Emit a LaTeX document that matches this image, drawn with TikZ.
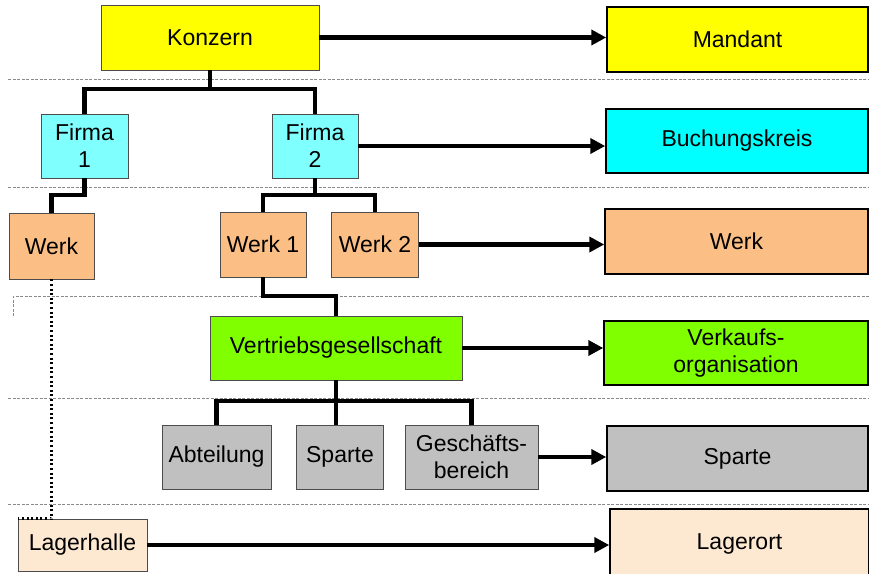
\documentclass[tikz,border=0pt]{standalone}
\usepackage{fontspec}
\setmainfont{Liberation Sans}
\usetikzlibrary{arrows.meta}

\definecolor{konz}{HTML}{FFFF00}
\definecolor{firma}{HTML}{80FFFF}
\definecolor{bukr}{HTML}{00FFFF}
\definecolor{werk}{HTML}{FBBE85}
\definecolor{vert}{HTML}{80FF00}
\definecolor{grau}{HTML}{C0C0C0}
\definecolor{lager}{HTML}{FDE8D2}
\definecolor{rule}{HTML}{8A8A8A}

\begin{document}
\begin{tikzpicture}[x=1pt,y=-1pt,
  box/.style={draw=black!70, line width=0.8pt, inner sep=0pt, align=center,
    font=\fontsize{23}{27}\selectfont},
  target/.style={box, draw=black, line width=1.5pt},
  link/.style={line width=4.4pt, line join=miter},
  map/.style={line width=4.4pt, -{Triangle[length=15pt,width=15pt]}},
  sep/.style={rule, line width=0.7pt, dash pattern=on 3pt off 1.5pt},
  trace/.style={line width=2.6pt, dash pattern=on 2pt off 2.6pt},
]
\clip (0,0) rectangle (869,573);

% level separators
\draw[sep] (8,79) -- (869,79);
\draw[sep] (8,187) -- (869,187);
\draw[sep] (13,316) -- (13,296) -- (869,296);
\draw[sep] (8,398) -- (869,398);
\draw[sep] (8,504) -- (869,504);

% organisation units
\node[box, fill=konz, minimum width=218pt, minimum height=65pt] (konzern) at (210,37.5) {Konzern};
\node[box, fill=firma, minimum width=87pt, minimum height=64pt] (firma1) at (84.5,146) {Firma\\1};
\node[box, fill=firma, minimum width=86pt, minimum height=64pt] (firma2) at (315,146) {Firma\\2};
\node[box, fill=werk, minimum width=85pt, minimum height=66pt] (werkl) at (51.5,246) {Werk};
\node[box, fill=werk, minimum width=86pt, minimum height=65pt] (werk1) at (263,244.5) {Werk 1};
\node[box, fill=werk, minimum width=87pt, minimum height=65pt] (werk2) at (375,244.5) {Werk 2};
\node[box, fill=vert, minimum width=252pt, minimum height=64pt] (vertrieb) at (336,348) {Vertriebsgesellschaft};
\node[box, fill=grau, minimum width=109pt, minimum height=64pt] (abteilung) at (216.5,457) {Abteilung};
\node[box, fill=grau, minimum width=87pt, minimum height=64pt] (sparte) at (340,457) {Sparte};
\node[box, fill=grau, minimum width=133pt, minimum height=64pt] (gb) at (471.5,457) {Geschäfts-\\bereich};
\node[box, fill=lager, minimum width=129pt, minimum height=52pt] (lagerhalle) at (82.5,545) {Lagerhalle};

% SAP counterparts
\node[target, fill=konz, minimum width=261pt, minimum height=65pt] (mandant) at (737.5,39.5) {Mandant};
\node[target, fill=bukr, minimum width=262pt, minimum height=64pt] (bukrs) at (737,141) {Buchungskreis};
\node[target, fill=werk, minimum width=263pt, minimum height=65pt] (werkr) at (736.5,241.5) {Werk};
\node[target, fill=vert, minimum width=264pt, minimum height=64pt] (verkauf) at (736,353) {Verkaufs-\\organisation};
\node[target, fill=grau, minimum width=261pt, minimum height=65pt] (sparter) at (737.5,458.5) {Sparte};
\node[target, fill=lager, minimum width=259pt, minimum height=70pt] (lagerort) at (739.5,544) {Lagerort};

% hierarchy
\coordinate (bus1) at (0,89);
\coordinate (bus2) at (0,195);
\coordinate (bus3) at (0,296);
\coordinate (bus4) at (0,401);
\draw[link] (konzern.south) -- (konzern.south |- bus1);
\draw[link] (firma1.north) -- (firma1.north |- bus1) -- (firma2.north |- bus1) -- (firma2.north);
\draw[link] (firma1.south) -- (firma1.south |- bus2) -- (werkl.north |- bus2) -- (werkl.north);
\draw[link] (firma2.south) -- (firma2.south |- bus2);
\draw[link] (werk1.north) -- (werk1.north |- bus2) -- (werk2.north |- bus2) -- (werk2.north);
\draw[link] (werk1.south) -- (werk1.south |- bus3) -- (vertrieb.north |- bus3) -- (vertrieb.north);
\draw[link] (vertrieb.south) -- (vertrieb.south |- sparte.north);
\draw[link] (abteilung.north) -- (abteilung.north |- bus4) -- (gb.north |- bus4) -- (gb.north);
\draw[trace] (werkl.south) |- (lagerhalle.north west);

% mapping arrows
\draw[map] (konzern.east) -- (konzern.east -| mandant.west);
\draw[map] (firma2.east) -- (firma2.east -| bukrs.west);
\draw[map] (werk2.east) -- (werk2.east -| werkr.west);
\draw[map] (vertrieb.east) -- (vertrieb.east -| verkauf.west);
\draw[map] (gb.east) -- (gb.east -| sparter.west);
\draw[map] (lagerhalle.east) -- (lagerhalle.east -| lagerort.west);
\end{tikzpicture}
\end{document}
